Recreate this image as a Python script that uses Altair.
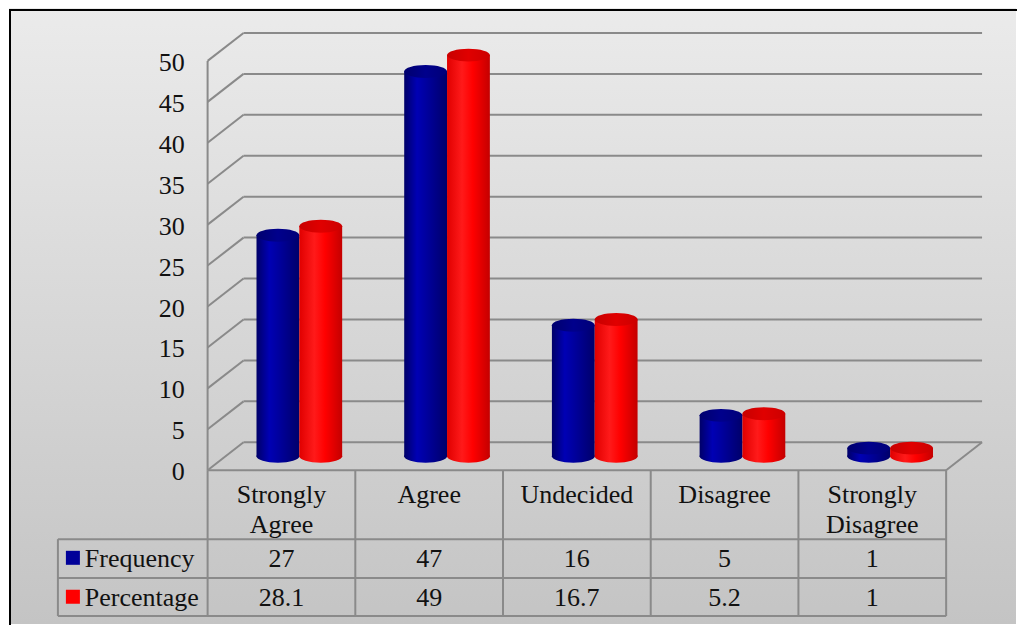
import altair as alt
import pandas as pd

# ---------------- data ----------------
categories = ["Strongly Agree", "Agree", "Undecided", "Disagree", "Strongly Disagree"]
frequency = [27, 47, 16, 5, 1]
percentage = [28.1, 49, 16.7, 5.2, 1]
series_names = ["Frequency", "Percentage"]
y_ticks = [0, 5, 10, 15, 20, 25, 30, 35, 40, 45, 50]

# ---------------- geometry (scale units) ----------------
W, H = 1009, 617
X_DOMAIN = [-1.3446, 5.4730]      # column units (one table column = 1)
Y_DOMAIN = [-18.780, 56.463]      # value units
DEPTH_X, DEPTH_Y = 0.2432, 3.415  # 3-D depth offset
BACK_RIGHT = len(categories) + DEPTH_X
HALF_Y = DEPTH_Y / 2
LEGEND_LEFT = -1.0135
ROW_LINES = [0, -8.415, -13.171, -17.805]
HEADER_Y = -4.024
ROW_TEXT_Y = [-11.829, -16.585]
KEY_Y = [-10.695, -15.451]
BAR_OFFSETS = [0.476, 0.766]
BAR_W = 0.29
BAR_PX = BAR_W * 148

xs = alt.Scale(domain=X_DOMAIN, nice=False, zero=False)
ys = alt.Scale(domain=Y_DOMAIN, nice=False, zero=False)
FONT = "Liberation Serif"
GRID = "#8a8a8a"


def X(f):
    return alt.X(f, type="quantitative", scale=xs, axis=None)


def Y(f):
    return alt.Y(f, type="quantitative", scale=ys, axis=None)


def grad(stops, vertical=False):
    return alt.Gradient(
        gradient="linear",
        stops=[alt.GradientStop(color=c, offset=o) for o, c in stops],
        x1=0, x2=0 if vertical else 1, y1=0, y2=1 if vertical else 0,
    )


# ---------------- background ----------------
bg_df = pd.DataFrame({"x": [X_DOMAIN[0]], "x2": [X_DOMAIN[1]],
                      "y": [Y_DOMAIN[0]], "y2": [Y_DOMAIN[1]]})
background = alt.Chart(bg_df).mark_rect(
    color=grad([(0, "#ebebeb"), (1, "#c4c4c4")], vertical=True)
).encode(x=X("x"), x2="x2", y=Y("y"), y2="y2")

frame_top = alt.Chart(bg_df).mark_rule(color="#000", strokeWidth=2).encode(
    x=alt.value(0), x2=alt.value(W), y=alt.value(2))
frame_left = alt.Chart(bg_df).mark_rule(color="#000", strokeWidth=2).encode(
    x=alt.value(1), y=alt.value(2), y2=alt.value(H))

# ---------------- back wall gridlines ----------------
seg = []
for t in y_ticks:
    seg.append({"x": 0, "y": t, "x2": DEPTH_X, "y2": t + DEPTH_Y})
    seg.append({"x": DEPTH_X, "y": t + DEPTH_Y, "x2": BACK_RIGHT, "y2": t + DEPTH_Y})
# front vertical axis line and floor right edge
seg.append({"x": 0, "y": 0, "x2": 0, "y2": y_ticks[-1]})
seg.append({"x": len(categories), "y": 0, "x2": BACK_RIGHT, "y2": DEPTH_Y})
grid = alt.Chart(pd.DataFrame(seg)).mark_rule(color=GRID, strokeWidth=2).encode(
    x=X("x"), y=Y("y"), x2="x2", y2="y2")

# ---------------- table lines ----------------
tl = []
n = len(categories)
tl.append({"x": 0, "y": ROW_LINES[0], "x2": n, "y2": ROW_LINES[0]})
for r in ROW_LINES[1:]:
    tl.append({"x": LEGEND_LEFT, "y": r, "x2": n, "y2": r})
for c in range(n + 1):
    tl.append({"x": c, "y": ROW_LINES[0], "x2": c, "y2": ROW_LINES[-1]})
tl.append({"x": LEGEND_LEFT, "y": ROW_LINES[1], "x2": LEGEND_LEFT, "y2": ROW_LINES[-1]})
table_lines = alt.Chart(pd.DataFrame(tl)).mark_rule(color=GRID, strokeWidth=2).encode(
    x=X("x"), y=Y("y"), x2="x2", y2="y2")

# ---------------- y tick labels ----------------
tick_df = pd.DataFrame({"x": [-0.1554] * len(y_ticks), "y": y_ticks,
                        "label": [str(t) for t in y_ticks]})
tick_labels = alt.Chart(tick_df).mark_text(
    font=FONT, fontSize=26, align="right", baseline="middle", dy=2, color="#111"
).encode(x=X("x"), y=Y("y"), text="label:N")

# ---------------- header & row texts ----------------
hdr_df = pd.DataFrame({"x": [i + 0.5 for i in range(n)], "y": [HEADER_Y] * n,
                       "label": categories})
header = alt.Chart(hdr_df).mark_text(
    font=FONT, fontSize=26, align="center", baseline="alphabetic",
    lineBreak=" ", lineHeight=30, color="#111"
).encode(x=X("x"), y=Y("y"), text="label:N")

rows = []
for k, vals in enumerate([frequency, percentage]):
    for i, v in enumerate(vals):
        rows.append({"x": i + 0.5, "y": ROW_TEXT_Y[k], "label": f"{v:g}"})
row_text = alt.Chart(pd.DataFrame(rows)).mark_text(
    font=FONT, fontSize=26, align="center", baseline="alphabetic", color="#111"
).encode(x=X("x"), y=Y("y"), text="label:N")

leg_df = pd.DataFrame({"x": [-0.831] * 2, "y": ROW_TEXT_Y, "label": series_names,
                       "kx": [-0.912] * 2, "ky": KEY_Y})
leg_text = alt.Chart(leg_df).mark_text(
    font=FONT, fontSize=26, align="left", baseline="alphabetic", color="#111"
).encode(x=X("x"), y=Y("y"), text="label:N")
leg_keys = alt.Chart(leg_df).mark_square(size=196, opacity=1, strokeWidth=0).encode(
    x=X("kx"), y=Y("ky"),
    color=alt.Color("label:N", scale=alt.Scale(domain=series_names,
                                               range=["#000099", "#ff0000"]), legend=None))

# ---------------- cylinders ----------------
ELLIPSE = "M-1,0A1,0.3,0,1,1,1,0A1,0.3,0,1,1,-1,0Z"
body_grads = [
    grad([(0, "#000068"), (0.3, "#0000b4"), (0.5, "#0000a0"), (1, "#00006a")]),
    grad([(0, "#e00000"), (0.35, "#ff1a1a"), (0.6, "#ff0000"), (1, "#c40000")]),
]
top_grads = [
    grad([(0, "#00006e"), (0.5, "#00008c"), (1, "#000078")]),
    grad([(0, "#c80000"), (0.5, "#e00000"), (1, "#cc0000")]),
]

cyl_layers = []
for k, vals in enumerate([frequency, percentage]):
    recs = []
    for i, v in enumerate(vals):
        xc = i + BAR_OFFSETS[k]
        recs.append({"xc": xc, "x1": xc - BAR_W / 2, "x2": xc + BAR_W / 2,
                     "yb": HALF_Y, "yt": v + HALF_Y})
    d = pd.DataFrame(recs)
    base = alt.Chart(d)
    bottom = base.mark_point(shape=ELLIPSE, filled=True, size=BAR_PX ** 2, opacity=1,
                             strokeWidth=0, color=body_grads[k]).encode(x=X("xc"), y=Y("yb"))
    body = base.mark_rect(color=body_grads[k]).encode(x=X("x1"), x2="x2", y=Y("yb"), y2="yt")
    top = base.mark_point(shape=ELLIPSE, filled=True, size=BAR_PX ** 2, opacity=1,
                          strokeWidth=0, color=top_grads[k]).encode(x=X("xc"), y=Y("yt"))
    cyl_layers += [bottom, body, top]

chart = alt.layer(
    background, grid, table_lines, *cyl_layers, tick_labels, header, row_text,
    leg_keys, leg_text, frame_top, frame_left
).properties(
    width=W, height=H, padding=0,
    autosize=alt.AutoSizeParams(type="fit", contains="padding"),
).configure_view(stroke=None)

chart.save("out.html", embed_options={"renderer": "svg", "actions": False})
